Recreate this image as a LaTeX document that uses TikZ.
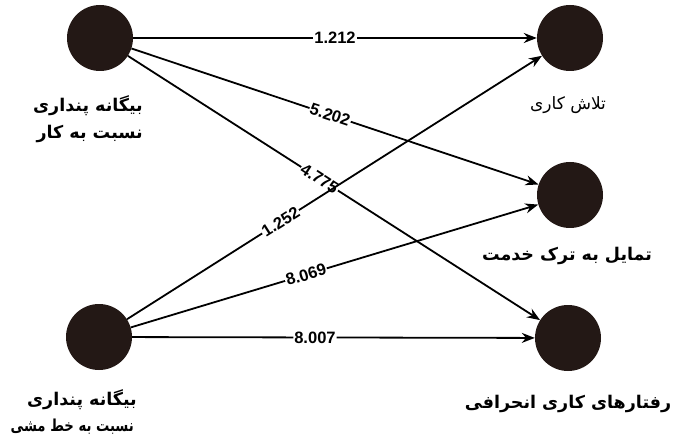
\documentclass[tikz,border=0pt]{standalone}
\usepackage{fontspec}
\usepackage{graphicx}
\setmainfont{Liberation Sans}
\newfontfamily\farsi[Script=Arabic]{DejaVu Sans}
\TeXXeTstate=1
\usetikzlibrary{arrows.meta}
\definecolor{dot}{HTML}{231815}

\begin{document}
\begin{tikzpicture}[x=1pt,y=-1pt,
	var/.style={circle, fill=dot, minimum size=66pt, inner sep=0pt},
	arr/.style={-{Stealth[length=13pt,width=10pt]}, line width=1.8pt},
	coef/.style={fill=white, inner sep=1pt, sloped, font=\bfseries\fontsize{16.5}{16.5}\selectfont},
	lbl/.style={font=\farsi\bfseries\fontsize{17.5}{17.5}\selectfont, inner sep=1pt}]
	\useasboundingbox (0,0) rectangle (674,446);

	\node[var] (kar) at (100,38) {};
	\node[var] (khat) at (99,337) {};
	\node[var] (talash) at (570,38) {};
	\node[var] (tark) at (570,195) {};
	\node[var] (raftar) at (568,338) {};

	% labels, one node per line
	\node[lbl, anchor=base east] (karL1) at (144,112) {\beginR بیگانه پنداری\endR};
	\node[lbl, anchor=base east] (karL2) at (144,139) {\beginR نسبت به کار\endR};
	\node[lbl, anchor=base east] (khatL1) at (138,405) {\beginR بیگانه پنداری\endR};
	\node[lbl, anchor=base east, font=\farsi\bfseries\fontsize{16.5}{16.5}\selectfont] (khatL2) at (135,431) {\scalebox{0.8}[1]{\beginR نسبت به خط مشی\endR}};
	\node[font=\farsi\fontsize{17}{17}\selectfont, anchor=base] (talashL) at (568,110) {\beginR تلاش کاری\endR};
	\node[lbl, anchor=base] (tarkL) at (567,260) {\beginR تمایل به ترک خدمت\endR};
	\node[lbl, anchor=base] (raftarL) at (568,408) {\beginR رفتارهای کاری انحرافی\endR};

	\draw[arr] (kar) -- node[coef, pos=0.5] {1.212} (talash);
	\draw[arr] (kar) -- node[coef, pos=0.488] {5.202} (tark);
	\draw[arr] (kar) -- node[coef, pos=0.465] {4.775} (raftar);
	\draw[arr] (khat) -- node[coef, pos=0.37] {1.252} (talash);
	\draw[arr] (khat) -- node[coef, pos=0.43] {8.069} (tark);
	\draw[arr] (khat) -- node[coef, pos=0.454] {8.007} (raftar);

\end{tikzpicture}
\end{document}
